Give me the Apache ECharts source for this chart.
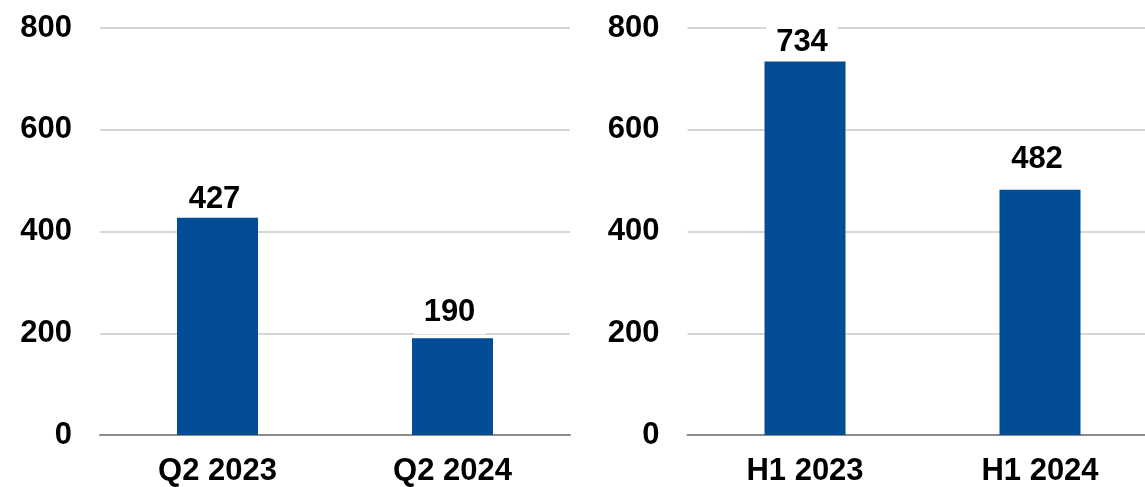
<!DOCTYPE html>
<html>
<head>
<meta charset="utf-8">
<script src="https://cdn.jsdelivr.net/npm/echarts@6/dist/echarts.min.js"></script>
<style>
  html, body { margin: 0; padding: 0; background: #fff; overflow: hidden; }
  /* The right-hand panel runs slightly past the window edge */
  #chart { width: 1158px; height: 487px; }
</style>
</head>
<body>
<div id="chart"></div>
<script>
// Quarterly and half-year totals
const quarterCategories = ['Q2 2023', 'Q2 2024'];
const quarterValues = [427, 190];
const halfYearCategories = ['H1 2023', 'H1 2024'];
const halfYearValues = [734, 482];
const yTicks = [0, 200, 400, 600, 800];

const FONT = '"Liberation Sans", Arial, sans-serif';
const BAR_COLOR = '#034C96';

// Per-bar label placement tweaks (distance above bar, extra bottom padding)
const quarterLabelStyle = [{ distance: 3, pad: 0 }, { distance: 4, pad: 6 }];
const halfYearLabelStyle = [{ distance: 4, pad: 0 }, { distance: 15, pad: 0 }];

function barData(values, styles) {
  return values.map((v, i) => ({
    value: v,
    label: {
      distance: styles[i].distance,
      padding: [0, 10, styles[i].pad, 10]
    }
  }));
}

function xAxis(gridIndex, cats) {
  return {
    type: 'category',
    gridIndex,
    data: cats,
    axisTick: { show: false },
    axisLine: { lineStyle: { color: '#8a8a8a', width: 2 } },
    axisLabel: { color: '#000', fontFamily: FONT, fontWeight: 'bold', fontSize: 31, margin: 21 }
  };
}

function yAxis(gridIndex) {
  return {
    type: 'value',
    gridIndex,
    min: yTicks[0],
    max: yTicks[yTicks.length - 1],
    interval: yTicks[1] - yTicks[0],
    axisLine: { show: false },
    axisTick: { show: false },
    splitLine: { lineStyle: { color: '#c8c8c8', width: 1.5 } },
    axisLabel: { color: '#000', fontFamily: FONT, fontWeight: 'bold', fontSize: 31, margin: 28 }
  };
}

function barSeries(idx, values, styles) {
  return {
    type: 'bar',
    xAxisIndex: idx,
    yAxisIndex: idx,
    data: barData(values, styles),
    barWidth: 81,
    itemStyle: { color: BAR_COLOR },
    label: {
      show: true,
      position: 'top',
      offset: [-3, 0],
      color: '#000',
      fontFamily: FONT,
      fontWeight: 'bold',
      fontSize: 31,
      backgroundColor: '#fff'
    }
  };
}

const chart = echarts.init(document.getElementById('chart'), null, { renderer: 'canvas' });
chart.setOption({
  animation: false,
  backgroundColor: '#fff',
  grid: [
    { left: 100, width: 470, top: 28, bottom: 51, containLabel: false },
    { left: 687.5, width: 470, top: 28, bottom: 51, containLabel: false }
  ],
  xAxis: [xAxis(0, quarterCategories), xAxis(1, halfYearCategories)],
  yAxis: [yAxis(0), yAxis(1)],
  series: [
    barSeries(0, quarterValues, quarterLabelStyle),
    barSeries(1, halfYearValues, halfYearLabelStyle)
  ]
});
</script>
</body>
</html>
